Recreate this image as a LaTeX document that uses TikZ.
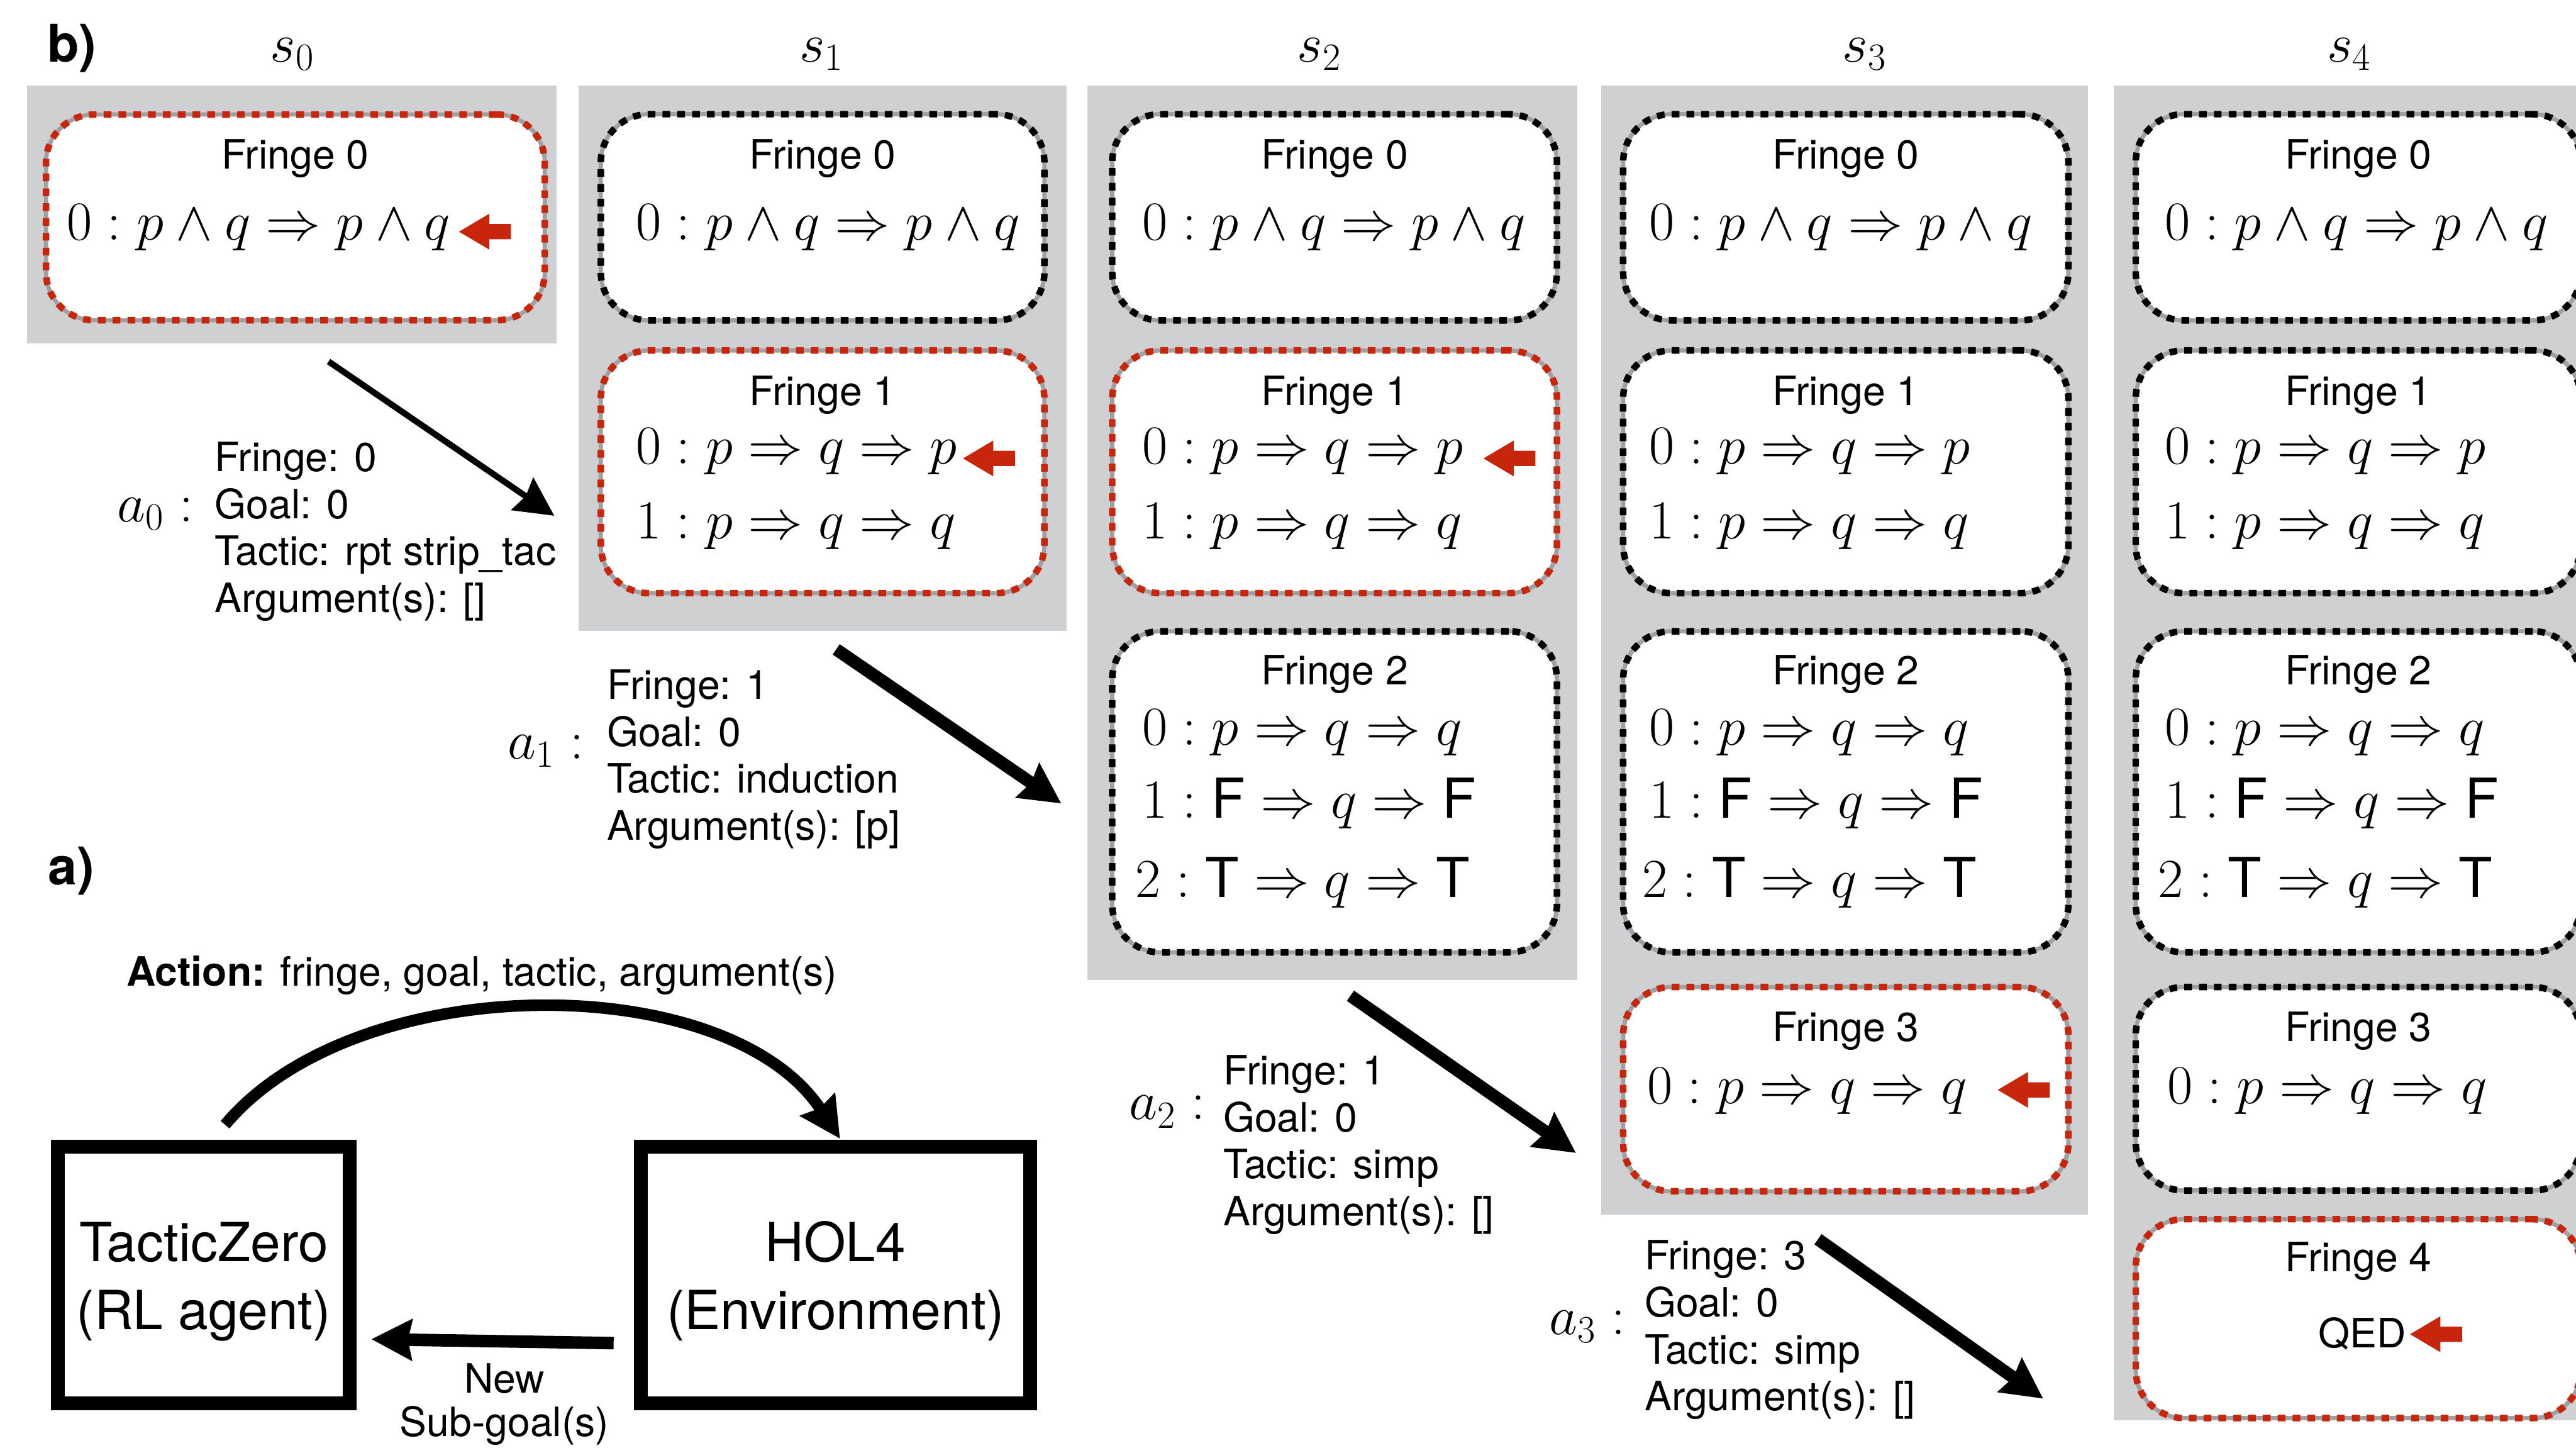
\RequirePackage{fix-cm}
\documentclass[tikz,border=0pt]{standalone}
\usepackage{amsmath}
\usepackage{fontspec}
\setmainfont{TeX Gyre Heros}
\usetikzlibrary{arrows.meta,fit}

\definecolor{panelgray}{RGB}{207,208,210}
\definecolor{markred}{RGB}{200,38,12}
\definecolor{rimgray}{RGB}{160,160,162}

\newcommand{\SansText}{\fontsize{21}{24.3}\selectfont}
\newcommand{\MathText}{\fontsize{28.6}{32}\selectfont}
\newcommand{\BigText}{\fontsize{28}{32}\selectfont}
\newcommand{\PanelText}{\fontsize{27}{32}\selectfont\bfseries}

% goal formulas
\newcommand{\LineAnd}[1]{$#1 : p \wedge q \Rightarrow p \wedge q$}
\newcommand{\LineP}[1]{$#1 : p \Rightarrow q \Rightarrow p$}
\newcommand{\LineQ}[1]{$#1 : p \Rightarrow q \Rightarrow q$}
\newcommand{\LineF}[1]{$#1 : \text{F} \Rightarrow q \Rightarrow \text{F}$}
\newcommand{\LineT}[1]{$#1 : \text{T} \Rightarrow q \Rightarrow \text{T}$}

\tikzset{
  panel/.style={rectangle, fill=panelgray, draw=none, inner sep=0pt, outer sep=0pt},
  fringebox/.style={rectangle, rounded corners=25pt, inner sep=0pt, outer sep=0pt,
    draw=#1, line width=3.4pt, dash pattern=on 4pt off 3.7pt,
    preaction={fill=white, draw=rimgray, line width=2.2pt, solid}},
  agentbox/.style={rectangle, inner sep=0pt, outer sep=0pt, draw=black, line width=7.2pt},
  ftitle/.style={anchor=base, inner sep=0pt, font=\SansText},
  goalline/.style={anchor=base west, inner sep=0pt, font=\MathText},
  info/.style={anchor=base west, inner sep=0pt, font=\SansText},
  infoc/.style={anchor=base, inner sep=0pt, font=\SansText},
  bigc/.style={anchor=base, inner sep=0pt, font=\BigText},
  statename/.style={anchor=base, inner sep=0pt, font=\MathText},
  actname/.style={anchor=base west, inner sep=0pt, font=\MathText},
  panelname/.style={anchor=base west, inner sep=0pt, font=\PanelText},
  thinflow/.style={line width=3.2pt, -{Stealth[length=20pt,width=20pt,inset=2pt]}},
  flow/.style={line width=6.5pt, -{Stealth[length=21pt,width=21pt,inset=2pt]}},
  goalmark/.pic={\fill[markred] (0,0) -- (18.4,10.9) -- (18.4,4.65) -- (31.6,4.65)
    -- (31.6,-4.65) -- (18.4,-4.65) -- (18.4,-10.9) -- cycle;}
}

\newcommand{\fringenode}[6]{\node[fringebox=#6, fit={(#2,#3) (#4,#5)}] (#1) {};}

\begin{document}
\begin{tikzpicture}[x=0.03cm, y=-0.03cm]
\useasboundingbox (0,0) rectangle (1568,881);
\clip (0,0) rectangle (1568,881);

% ---------- panel labels ----------
\node[panelname] (lblb) at (28.5,37.7) {b)};
\node[panelname] (lbla) at (29,538.3) {a)};

% ---------- state columns ----------
\node[panel, fit={(16.6,52) (338.7,209)}] (P0) {};
\node[panel, fit={(352.2,52) (649.3,384)}] (P1) {};
\node[panel, fit={(662,52) (960,596.5)}] (P2) {};
\node[panel, fit={(974.7,52) (1271,739.3)}] (P3) {};
\node[panel, fit={(1286.7,52) (1620,864.3)}] (P4) {};

\node[statename] (s0) at (178,37.7) {$s_0$};
\node[statename] (s1) at (500,37.7) {$s_1$};
\node[statename] (s2) at (803,37.7) {$s_2$};
\node[statename] (s3) at (1135,37.7) {$s_3$};
\node[statename] (s4) at (1430,37.7) {$s_4$};

% state s0
\fringenode{f00}{28}{69.7}{331.6}{194.9}{markred}
\node[ftitle] at (f00.north |- 0,102.7) {Fringe 0};
\node[goalline] at (40.5,146.2) {\LineAnd{0}};
\pic (m0) at (279.4,141) {goalmark};

% state s1
\fringenode{f10}{365.7}{69.5}{635.7}{195}{black}
\fringenode{f11}{365.7}{213.3}{635.7}{361}{markred}
\node[ftitle] at (f10.north |- 0,102.7) {Fringe 0};
\node[goalline] at (387,146.2) {\LineAnd{0}};
\node[ftitle] at (f11.north |- 0,246.7) {Fringe 1};
\node[goalline] at (387,282.3) {\LineP{0}};
\node[goalline] at (387,328) {\LineQ{1}};
\pic (m1) at (586.2,279) {goalmark};

% state s2
\fringenode{f20}{677}{69.5}{947.7}{195}{black}
\fringenode{f21}{677}{213.3}{947.7}{361}{markred}
\fringenode{f22}{677}{384.2}{947.7}{579.6}{black}
\node[ftitle] at (f20.north |- 0,102.7) {Fringe 0};
\node[goalline] at (695,146.2) {\LineAnd{0}};
\node[ftitle] at (f21.north |- 0,246.7) {Fringe 1};
\node[goalline] at (695,282.3) {\LineP{0}};
\node[goalline] at (695,328) {\LineQ{1}};
\node[ftitle] at (f22.north |- 0,416.7) {Fringe 2};
\node[goalline] at (695,453.6) {\LineQ{0}};
\node[goalline] at (695,497.8) {\LineF{1}};
\node[goalline] at (691,545.9) {\LineT{2}};
\pic (m2) at (903,279) {goalmark};

% state s3
\fringenode{f30}{988}{69.5}{1259}{195}{black}
\fringenode{f31}{988}{213.3}{1259}{361}{black}
\fringenode{f32}{988}{384.2}{1259}{579.6}{black}
\fringenode{f33}{988}{600.7}{1259}{725}{markred}
\node[ftitle] at (f30.north |- 0,102.7) {Fringe 0};
\node[goalline] at (1003.5,146.2) {\LineAnd{0}};
\node[ftitle] at (f31.north |- 0,246.7) {Fringe 1};
\node[goalline] at (1003.5,282.3) {\LineP{0}};
\node[goalline] at (1003.5,328) {\LineQ{1}};
\node[ftitle] at (f32.north |- 0,416.7) {Fringe 2};
\node[goalline] at (1003.5,453.6) {\LineQ{0}};
\node[goalline] at (1003.5,497.8) {\LineF{1}};
\node[goalline] at (999.5,545.9) {\LineT{2}};
\node[ftitle] at (f33.north |- 0,633.7) {Fringe 3};
\node[goalline] at (1002.5,671.5) {\LineQ{0}};
\pic (m3) at (1216,663.3) {goalmark};

% state s4
\fringenode{f40}{1300}{69.5}{1571}{195}{black}
\fringenode{f41}{1300}{213.3}{1571}{361}{black}
\fringenode{f42}{1300}{384.2}{1571}{579.6}{black}
\fringenode{f43}{1300}{600.7}{1571}{724.5}{black}
\fringenode{f44}{1300}{742}{1571}{863}{markred}
\node[ftitle] at (f40.north |- 0,102.7) {Fringe 0};
\node[goalline] at (1317.5,146.2) {\LineAnd{0}};
\node[ftitle] at (f41.north |- 0,246.7) {Fringe 1};
\node[goalline] at (1317.5,282.3) {\LineP{0}};
\node[goalline] at (1317.5,328) {\LineQ{1}};
\node[ftitle] at (f42.north |- 0,416.7) {Fringe 2};
\node[goalline] at (1317.5,453.6) {\LineQ{0}};
\node[goalline] at (1317.5,497.8) {\LineF{1}};
\node[goalline] at (1313.5,545.9) {\LineT{2}};
\node[ftitle] at (f43.north |- 0,633.7) {Fringe 3};
\node[goalline] at (1319,671.5) {\LineQ{0}};
\node[ftitle] at (f44.north |- 0,774) {Fringe 4};
\node[info] (qed) at (1411,820.2) {QED};
\pic (m4) at (1467,812) {goalmark};

% ---------- actions between states ----------
\node[actname] (a0) at (71,317.6) {$a_0 :$};
\node[info] at (130.6,287) {Fringe: 0};
\node[info] at (130.6,315.5) {Goal: 0};
\node[info] at (130.6,344) {Tactic: rpt strip\_tac};
\node[info] at (130.6,372.5) {Argument(s): []};

\node[actname] (a1) at (308.9,462) {$a_1 :$};
\node[info] at (369.2,425.6) {Fringe: 1};
\node[info] at (369.2,454.1) {Goal: 0};
\node[info] at (369.2,482.6) {Tactic: induction};
\node[info] at (369.2,511.1) {Argument(s): [p]};

\node[actname] (a2) at (687,681.4) {$a_2 :$};
\node[info] at (744.4,660) {Fringe: 1};
\node[info] at (744.4,688.7) {Goal: 0};
\node[info] at (744.4,717.3) {Tactic: simp};
\node[info] at (744.4,745.9) {Argument(s): []};

\node[actname] (a3) at (943,812) {$a_3 :$};
\node[info] at (1000.9,772.7) {Fringe: 3};
\node[info] at (1000.9,801.4) {Goal: 0};
\node[info] at (1000.9,830) {Tactic: simp};
\node[info] at (1000.9,858.5) {Argument(s): []};

\coordinate (a0from) at (200,220);
\coordinate (a0to) at (337.4,313.9);
\coordinate (a1from) at (509,395.2);
\coordinate (a1to) at (646,489);
\coordinate (a2from) at (822,606);
\coordinate (a2to) at (959.3,701.7);
\coordinate (a3from) at (1106.6,754.2);
\coordinate (a3to) at (1243.7,851.2);
\draw[thinflow] (a0from) -- (a0to);
\draw[flow] (a1from) -- (a1to);
\draw[flow] (a2from) -- (a2to);
\draw[flow] (a3from) -- (a3to);

% ---------- agent / environment loop ----------
\node[agentbox, fit={(35.2,698) (212.8,854)}] (agent) {};
\node[agentbox, fit={(390,698) (627,854)}] (env) {};
\node[bigc] at (agent.center |- 0,767.8) {TacticZero};
\node[bigc] at (agent.center |- 0,808.9) {(RL agent)};
\node[bigc] at (env.center |- 0,767.8) {HOL4};
\node[bigc] at (env.center |- 0,808.9) {(Environment)};

\node[info] (action) at (76.8,600) {\textbf{Action:} fringe, goal, tactic, argument(s)};
\node[infoc] (new1) at (307,847.6) {New};
\node[infoc] (new2) at (307,874) {Sub-goal(s)};

\coordinate (actfrom) at (137,684.5);
\coordinate (actto) at (511.3,693);
\draw[line width=6pt, -{Stealth[length=21pt,width=21pt,inset=2pt]}]
  (actfrom) .. controls (217,589) and (443,589) .. (actto);
\coordinate (obsfrom) at (373.5,817.4);
\coordinate (obsto) at (226,815);
\draw[flow] (obsfrom) -- (obsto);
\end{tikzpicture}
\end{document}
